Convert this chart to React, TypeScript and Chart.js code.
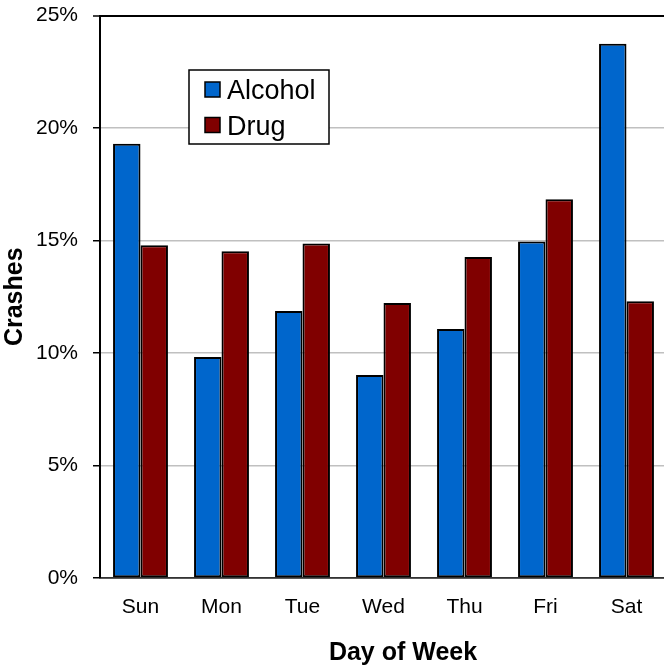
import React, { useEffect, useRef } from "react";
import { Chart, registerables } from "chart.js";

Chart.register(...registerables);

const days = ["Sun", "Mon", "Tue", "Wed", "Thu", "Fri", "Sat"];
const alcohol = [19.3, 9.82, 11.87, 9.02, 11.07, 14.96, 23.75];
const drug = [14.79, 14.52, 14.87, 12.22, 14.27, 16.83, 12.3];
const yTicks = [0, 5, 10, 15, 20, 25];
const seriesNames = ["Alcohol", "Drug"];
const seriesColors = ["#0066CC", "#800000"];

const FONT = '"Liberation Sans", Arial, Helvetica, sans-serif';

const legendPlugin = {
  id: "boxLegend",
  afterDatasetsDraw(chart: any) {
    const ctx = chart.ctx;
    const x0 = 189, y0 = 70, w = 140, h = 74;
    ctx.save();
    ctx.fillStyle = "#ffffff";
    ctx.fillRect(x0, y0, w, h);
    ctx.strokeStyle = "#000000";
    ctx.lineWidth = 1.5;
    ctx.strokeRect(x0, y0, w, h);
    ctx.font = `27px ${FONT}`;
    ctx.textBaseline = "alphabetic";
    ctx.textAlign = "left";
    chart.data.datasets.forEach((ds: any, i: number) => {
      const sy = 82 + i * 35.5;
      ctx.fillStyle = ds.backgroundColor;
      ctx.fillRect(205, sy, 15, 15);
      ctx.lineWidth = 1.5;
      ctx.strokeStyle = "#000";
      ctx.strokeRect(205, sy, 15, 15);
      ctx.fillStyle = "#000";
      ctx.fillText(ds.label, 227, 99 + i * 36);
    });
    ctx.restore();
  },
};

const xTitlePlugin = {
  id: "xTitle",
  afterDraw(chart: any) {
    const ctx = chart.ctx;
    ctx.save();
    ctx.font = `bold 25px ${FONT}`;
    ctx.fillStyle = "#000";
    ctx.textAlign = "center";
    ctx.textBaseline = "alphabetic";
    ctx.fillText("Day of Week", 403, 660);
    ctx.restore();
  },
};

export default function App() {
  const ref = useRef<HTMLCanvasElement>(null);
  useEffect(() => {
    if (!ref.current) return;
    Chart.defaults.font.family = FONT;
    const chart = new Chart(ref.current, {
      type: "bar",
      data: {
        labels: days,
        datasets: [
          {
            label: seriesNames[0],
            data: alcohol,
            backgroundColor: seriesColors[0],
            borderColor: "#000",
            borderWidth: 2,
            borderSkipped: false,
          },
          {
            label: seriesNames[1],
            data: drug,
            backgroundColor: seriesColors[1],
            borderColor: "#000",
            borderWidth: 2,
            borderSkipped: false,
          },
        ],
      },
      options: {
        responsive: false,
        animation: false,
        devicePixelRatio: 1,
        layout: { padding: { top: 15.5, right: 3, left: 0, bottom: 0 } },
        datasets: { bar: { categoryPercentage: 0.678, barPercentage: 1 } },
        plugins: {
          legend: { display: false },
          tooltip: { enabled: false },
        },
        scales: {
          x: {
            grid: { display: false, drawTicks: false },
            border: { display: true, color: "#333", width: 1.5 },
            ticks: {
              color: "#000",
              font: { size: 21 },
              padding: 17,
              maxRotation: 0,
            },
            afterFit: (s: any) => {
              s.height = 87;
              s.paddingLeft = 0;
              s.paddingRight = 0;
            },
          },
          y: {
            min: 0,
            max: 25,
            afterBuildTicks: (s: any) => {
              s.ticks = yTicks.map((v) => ({ value: v }));
            },
            grid: {
              color: (c: any) =>
                c.tick && (c.tick.value === 25 || c.tick.value === 0) ? "#000" : "#c0c0c0",
              lineWidth: (c: any) => (c.tick && c.tick.value === 25 ? 2 : 1.5),
              tickColor: "#000",
              tickLength: 7,
              tickWidth: 1.5,
            },
            border: { display: true, color: "#000", width: 2 },
            ticks: {
              color: "#000",
              font: { size: 21 },
              padding: 15,
              callback: (v: any) => `${v}%`,
            },
            title: {
              display: true,
              text: "Crashes",
              color: "#000",
              font: { size: 25, weight: "bold" },
              padding: { top: 0, bottom: 0 },
            },
            afterFit: (s: any) => {
              s.width = 100;
              s.paddingTop = 0;
              s.paddingBottom = 0;
            },
          },
        },
      },
      plugins: [legendPlugin, xTitlePlugin],
    });
    return () => chart.destroy();
  }, []);
  return (
    <div
      style={{
        position: "absolute",
        left: 0,
        top: 0,
        width: 664,
        height: 665,
        overflow: "hidden",
        background: "#fff",
      }}
    >
      <canvas ref={ref} width={670} height={665} style={{ display: "block" }} />
    </div>
  );
}
